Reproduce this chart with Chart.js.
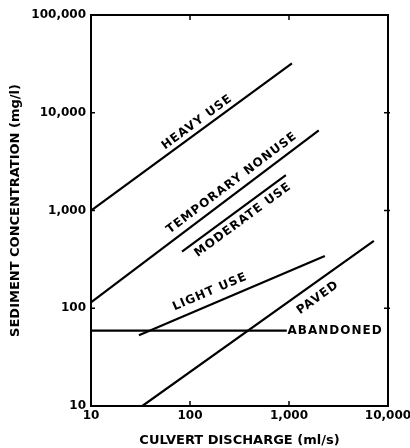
<!DOCTYPE html>
<html>
<head>
<meta charset="utf-8">
<script src="https://cdn.jsdelivr.net/npm/chart.js@4.4.1/dist/chart.umd.min.js"></script>
<style>
html,body{margin:0;padding:0;background:#fff;}
#wrap{width:410px;height:448px;position:relative;}
</style>
</head>
<body>
<div id="wrap"><canvas id="c"></canvas></div>
<script>
// ---- data ----
const xTicks = [10, 100, 1000, 10000];
const yTicks = [10, 100, 1000, 10000, 100000];

const heavyX = [10, 1070];        const heavyY = [1000, 32000];
const tempX = [10, 2000];         const tempY = [115, 6600];
const moderateX = [83, 930];      const moderateY = [380, 2300];
const lightX = [30.5, 2300];      const lightY = [53, 342];
const pavedX = [33, 7200];        const pavedY = [10, 490];
const abandonedX = [10, 950];     const abandonedY = [59, 59];

const seriesNames = ['HEAVY USE', 'TEMPORARY NONUSE', 'MODERATE USE', 'LIGHT USE', 'PAVED', 'ABANDONED'];
// label anchor (data coords) for each series label
const labelX = [118, 265, 343, 159, 1960, 965];
const labelY = [8000, 1910, 800, 147, 128, 59];

const FONT = "'DejaVu Sans', 'Liberation Sans', sans-serif";

function pts(xs, ys) { return xs.map((x, i) => ({x: x, y: ys[i]})); }
const seriesX = [heavyX, tempX, moderateX, lightX, pavedX, abandonedX];
const seriesY = [heavyY, tempY, moderateY, lightY, pavedY, abandonedY];

const datasets = seriesNames.map((n, i) => ({
  label: n,
  data: pts(seriesX[i], seriesY[i]),
  showLine: true,
  borderColor: '#000',
  borderWidth: 2.2,
  pointRadius: 0,
  fill: false
}));

const fmt = v => Number(v).toLocaleString('en-US');

const decorPlugin = {
  id: 'decor',
  afterDatasetsDraw(chart) {
    const ctx = chart.ctx;
    const xs = chart.scales.x, ys = chart.scales.y;
    const a = chart.chartArea;
    ctx.save();
    // frame
    ctx.strokeStyle = '#000';
    ctx.lineWidth = 2;
    ctx.strokeRect(a.left, a.top, a.right - a.left, a.bottom - a.top);
    // inner ticks
    ctx.lineWidth = 1.5;
    xTicks.slice(1, -1).forEach(v => {
      const px = xs.getPixelForValue(v);
      ctx.beginPath(); ctx.moveTo(px, a.bottom); ctx.lineTo(px, a.bottom - 5); ctx.stroke();
      ctx.beginPath(); ctx.moveTo(px, a.top); ctx.lineTo(px, a.top + 5); ctx.stroke();
    });
    yTicks.slice(1, -1).forEach(v => {
      const py = ys.getPixelForValue(v);
      ctx.beginPath(); ctx.moveTo(a.left, py); ctx.lineTo(a.left + 4, py); ctx.stroke();
      ctx.beginPath(); ctx.moveTo(a.right - 4, py); ctx.lineTo(a.right + 2, py); ctx.stroke();
    });
    // series labels
    ctx.fillStyle = '#000';
    ctx.font = "bold 12px " + FONT;
    try { ctx.letterSpacing = '1px'; } catch (e) {}
    seriesNames.forEach((n, i) => {
      const sx = seriesX[i], sy = seriesY[i];
      const x0 = xs.getPixelForValue(sx[0]), y0 = ys.getPixelForValue(sy[0]);
      const x1 = xs.getPixelForValue(sx[1]), y1 = ys.getPixelForValue(sy[1]);
      const ang = Math.atan2(y1 - y0, x1 - x0);
      const px = xs.getPixelForValue(labelX[i]), py = ys.getPixelForValue(labelY[i]);
      ctx.save();
      ctx.translate(px, py);
      ctx.rotate(ang);
      ctx.textAlign = (n === 'ABANDONED') ? 'left' : 'center';
      ctx.textBaseline = 'middle';
      ctx.fillText(n, 0, 0);
      ctx.restore();
    });
    ctx.restore();
  }
};

new Chart(document.getElementById('c'), {
  type: 'scatter',
  data: { datasets: datasets },
  options: {
    responsive: true,
    maintainAspectRatio: false,
    animation: false,
    layout: { padding: { left: 0, right: 22, top: 15, bottom: 0 } },
    plugins: { legend: { display: false }, tooltip: { enabled: false } },
    scales: {
      x: {
        type: 'logarithmic', min: 10, max: 10000,
        afterBuildTicks: s => { s.ticks = xTicks.map(v => ({value: v})); },
        afterFit: s => { s.height = 42; s.paddingRight = 0; s.paddingLeft = 0; },
        grid: { display: false, drawTicks: false },
        border: { display: false },
        ticks: { callback: v => fmt(v), color: '#000', font: { family: FONT, size: 12, weight: 'bold' }, padding: 3, maxRotation: 0, autoSkip: false },
        title: { display: true, text: 'CULVERT DISCHARGE (ml/s)', color: '#000', font: { family: FONT, size: 13, weight: 'bold' }, padding: { top: 0, bottom: 0 } }
      },
      y: {
        type: 'logarithmic', min: 10, max: 100000,
        afterBuildTicks: s => { s.ticks = yTicks.map(v => ({value: v})); },
        afterFit: s => { s.width = 91; },
        grid: { display: false, drawTicks: false },
        border: { display: false },
        ticks: { callback: v => fmt(v), color: '#000', font: { family: FONT, size: 12, weight: 'bold' }, padding: 5, autoSkip: false },
        title: { display: true, text: 'SEDIMENT CONCENTRATION (mg/l)', color: '#000', font: { family: FONT, size: 13, weight: 'bold' }, padding: { top: 8, bottom: 0 } }
      }
    }
  },
  plugins: [decorPlugin]
});
</script>
</body>
</html>
